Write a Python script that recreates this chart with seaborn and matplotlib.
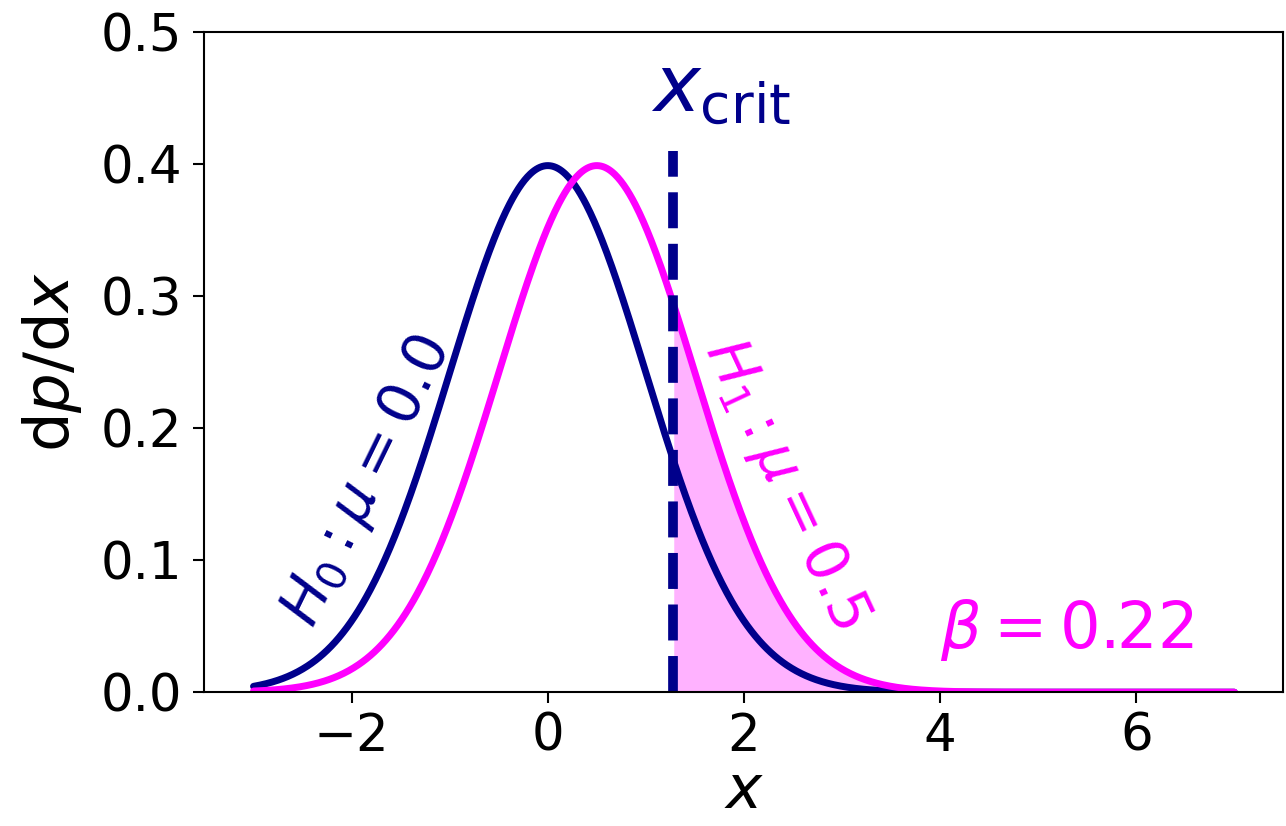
import numpy as np
import pandas as pd
import matplotlib
matplotlib.use("Agg")
import matplotlib.pyplot as plt
import seaborn as sns

# Hypothesis test parameters
mu_null = 0.0
mu_alt = 0.5
sigma = 1.0
x_crit = 1.2816
beta_value = 0.22
x_range = [-3.0, 7.0]

color_null = "#00008b"
color_alt = "#ff00ff"


def gauss_pdf(x, mu, s):
    return np.exp(-0.5 * ((x - mu) / s) ** 2) / (s * np.sqrt(2 * np.pi))


xs = np.linspace(x_range[0], x_range[1], 1000)
df = pd.DataFrame({
    "x": np.concatenate([xs, xs]),
    "pdf": np.concatenate([gauss_pdf(xs, mu_null, sigma), gauss_pdf(xs, mu_alt, sigma)]),
    "hyp": ["H0"] * len(xs) + ["H1"] * len(xs),
})

sns.set_theme(style="ticks")
plt.rcParams["font.family"] = ["DejaVu Sans"]
plt.rcParams["mathtext.fontset"] = "dejavusans"

fig = plt.figure(figsize=(12.86, 8.26), dpi=100)
ax = fig.add_axes([0.159, 0.162, 0.839, 0.799])

sns.lineplot(data=df, x="x", y="pdf", hue="hyp",
             palette={"H0": color_null, "H1": color_alt},
             linewidth=5, legend=False, ax=ax)

# Region above the critical value under the alternative
mask = xs >= x_crit
ax.fill_between(xs[mask], 0, gauss_pdf(xs[mask], mu_alt, sigma),
                color=color_alt, alpha=0.3, linewidth=0)

ax.vlines(x_crit, 0, 0.41, colors=color_null, linestyles="--", linewidth=7)

ax.text(x_crit + 0.48, 0.456, r"$x_{\rm crit}$", color=color_null,
        fontsize=57, ha="center", va="center")
ax.text(-1.85, 0.160, r"$H_0: \mu = %.1f$" % mu_null, color=color_null,
        fontsize=42, rotation=64, ha="center", va="center")
ax.text(2.43, 0.158, r"$H_1: \mu = %.1f$" % mu_alt, color=color_alt,
        fontsize=42, rotation=-65, ha="center", va="center")
ax.text(5.29, 0.047, r"$\beta = %.2f$" % beta_value, color=color_alt,
        fontsize=46, ha="center", va="center")

ax.set_xlim(-3.5, 7.5)
ax.set_ylim(0, 0.5)
ax.set_xticks([-2, 0, 2, 4, 6])
ax.set_yticks([0.0, 0.1, 0.2, 0.3, 0.4, 0.5])
ax.set_xlabel(r"$x$", fontsize=44, color="black", labelpad=0)
ax.set_ylabel(r"d$p$/d$x$", fontsize=45, color="black", labelpad=12)
ax.tick_params(axis="both", labelsize=37, length=8, width=1.5, colors="black")
ax.tick_params(axis="y", pad=8)
ax.tick_params(axis="x", pad=6)
for sp in ax.spines.values():
    sp.set_color("black")
    sp.set_linewidth(1.5)

fig.savefig("out.png", dpi=100)
